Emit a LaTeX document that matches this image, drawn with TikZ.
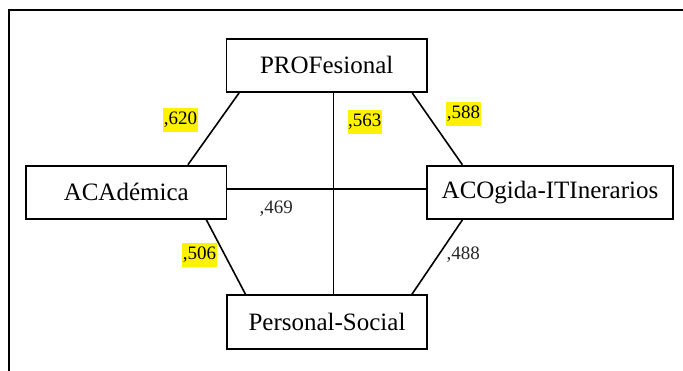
\documentclass[tikz,border=0pt]{standalone}
\usepackage{fontspec}
\setmainfont{Liberation Serif}
\begin{document}
\begin{tikzpicture}[x=1pt,y=-1pt,
  box/.style={draw, line width=1.8pt, inner sep=0pt, font=\fontsize{25}{28}\selectfont, text=black},
  conn/.style={line width=1.6pt},
  hl/.style={fill=yellow, inner xsep=0.5pt, inner ysep=2pt, text height=15pt, text depth=5pt, font=\fontsize{19}{22}\selectfont, text=black},
  plain/.style={inner sep=0pt, font=\fontsize{19}{22}\selectfont, text=black!85}]
\useasboundingbox (0,0) rectangle (683,371);
\draw[line width=1.6pt] (9,371) -- (9,10) -- (683,10);
\node[box, minimum width=200.5pt, minimum height=53.3pt] (pro) at (326.75,65.35) {PROFesional};
\node[box, minimum width=200.5pt, minimum height=53.3pt] (aca) at (126.25,192.35) {ACAdémica};
\node[box, minimum width=246pt, minimum height=53.3pt] (aco) at (550,192.35) {ACOgida-ITInerarios};
\node[box, minimum width=200.5pt, minimum height=54pt] (ps) at (327,322.3) {Personal-Social};
\draw[conn] ([xshift=13.5pt]pro.south west) -- ([xshift=-39.5pt]aca.north east);
\draw[conn] ([xshift=-15.7pt]pro.south east) -- ([xshift=36.3pt]aco.north west);
\draw[conn] ([xshift=6.75pt]pro.south) -- ([xshift=6.75pt]pro.south |- ps.north);
\draw[conn] ([yshift=3.6pt]aca.east) -- ([yshift=3.6pt]aco.west);
\draw[conn] ([xshift=-21pt]aca.south east) -- ([xshift=19.7pt]ps.north west);
\draw[conn] ([xshift=36.3pt]aco.south west) -- ([xshift=-16.3pt]ps.north east);
\node[hl] (l620) at (180.5,120) {,620};
\node[hl] (l563) at (364.8,122) {,563};
\node[hl] (l588) at (463.5,114) {,588};
\node[hl] (l506) at (199.5,255) {,506};
\node[plain] (l488) at (463.3,255) {,488};
\node[plain] (l469) at (276.3,209) {,469};
\end{tikzpicture}
\end{document}
